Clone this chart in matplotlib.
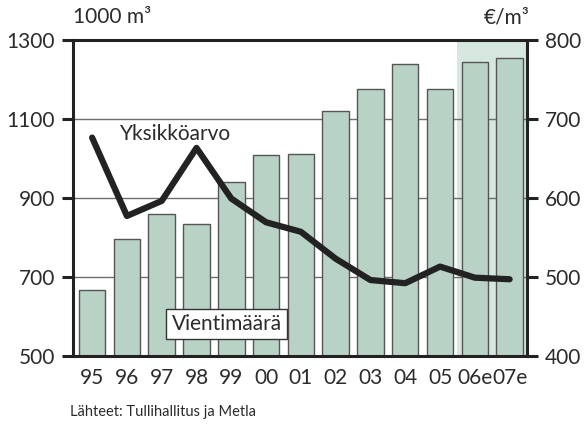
import matplotlib.pyplot as plt
import numpy as np

plt.rcParams["font.family"] = ["Lato", "DejaVu Sans"]

years = ["95", "96", "97", "98", "99", "00", "01", "02", "03", "04", "05", "06e", "07e"]
volume = [668, 795, 860, 833, 939, 1007, 1011, 1119, 1174, 1237, 1174, 1242, 1252]
unit_value = [676, 577, 596, 663, 599, 569, 557, 523, 496, 492, 513, 499, 497]

text_col = "#2b2b2b"
bar_col = "#b9d2c6"
span_col = "#d6e7df"

fig = plt.figure(figsize=(5.86, 4.32), dpi=100)
ax = fig.add_axes([73 / 586, 1 - 356 / 432, (527 - 73) / 586, (356 - 39.5) / 432])
x = np.arange(len(years))

ax.axvspan(10.5, 12.5, color=span_col, zorder=0, lw=0)
for g in [700, 900, 1100]:
    ax.axhline(g, color="#6e6e6e", lw=1, zorder=1)
ax.bar(x, volume, width=0.76, color=bar_col, edgecolor="#555555", linewidth=1, zorder=2)
ax.set_xlim(-0.55, 12.5)
ax.set_ylim(500, 1300)
ax.set_yticks([500, 700, 900, 1100, 1300])
ax.set_yticklabels(["500", "700", "900", "1100", "1300"])
ax.set_xticks(x)
ax.set_xticklabels(years)
ax.tick_params(axis="x", length=0, pad=9, labelsize=15, labelcolor=text_col)
ax.tick_params(axis="y", direction="out", length=8, width=2.2, pad=5,
               labelsize=15, labelcolor=text_col, color="#222222")
for s in ["left", "bottom", "top"]:
    ax.spines[s].set_linewidth(2.2)
    ax.spines[s].set_color("#222222")
ax.spines["right"].set_visible(False)

ax2 = ax.twinx()
ax2.plot(x, unit_value, color="#222222", lw=4.5, solid_joinstyle="round",
         solid_capstyle="round", zorder=5)
ax2.set_ylim(400, 800)
ax2.set_yticks([400, 500, 600, 700, 800])
ax2.tick_params(axis="y", direction="out", length=8, width=2.2, pad=5,
                labelsize=15, labelcolor=text_col, color="#222222")
for s in ["left", "bottom", "top"]:
    ax2.spines[s].set_visible(False)
ax2.spines["right"].set_linewidth(2.2)
ax2.spines["right"].set_color("#222222")

ax.text(0.8, 1062, "Yksikköarvo", fontsize=15, color=text_col, va="center", ha="left", zorder=6)
ax.text(3.87, 581, "Vientimäärä", fontsize=15, color=text_col, va="center", ha="center", zorder=6,
        bbox=dict(boxstyle="square,pad=0.25", fc="white", ec="#333333", lw=1))

fig.text(73 / 586, 1 - 17 / 432, "1000 m³", fontsize=15, color=text_col, va="center", ha="left")
fig.text(530 / 586, 1 - 17 / 432, "€/m³", fontsize=15, color=text_col, va="center", ha="right")
fig.text(70 / 586, 1 - 412 / 432, "Lähteet: Tullihallitus ja Metla", fontsize=10.5, color=text_col,
         va="center", ha="left")

fig.savefig("out.png", dpi=100)
